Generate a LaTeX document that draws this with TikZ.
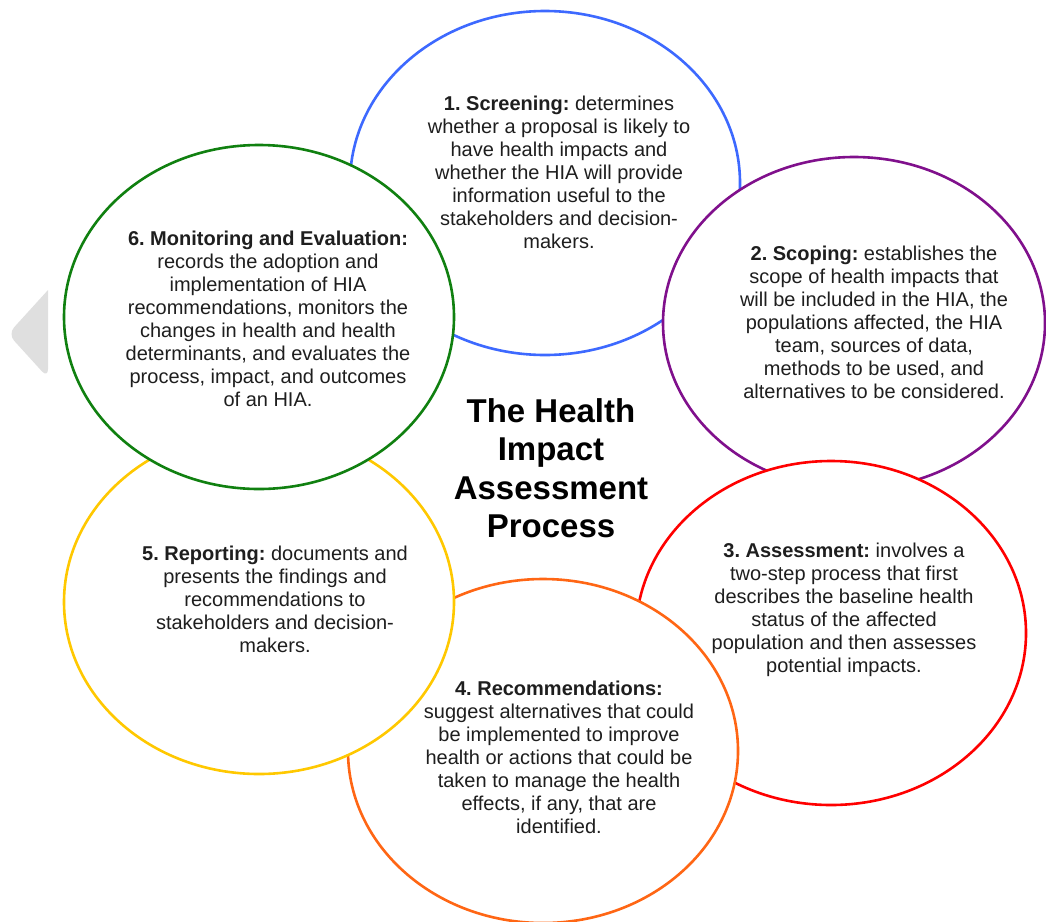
\documentclass[tikz,border=0pt]{standalone}
\usepackage{fontspec}
\setmainfont{Liberation Sans}
\usepackage{tikz}
\usetikzlibrary{shapes.geometric, positioning}
\definecolor{hiaBlue}{RGB}{61,105,255}
\definecolor{hiaPurple}{RGB}{128,16,140}
\definecolor{hiaRed}{RGB}{255,0,0}
\definecolor{hiaOrange}{RGB}{255,102,20}
\definecolor{hiaYellow}{RGB}{255,200,0}
\definecolor{hiaGreen}{RGB}{16,128,16}
\definecolor{hiaText}{RGB}{30,30,30}
\frenchspacing

\begin{document}
\begin{tikzpicture}
                            [x=1pt, y=-1pt,
                             stage/.style={draw, ellipse, fill=white, line width=2.6pt,
                                           minimum width=390pt, minimum height=344pt, inner sep=0pt},
                             stagetext/.style={align=center, text=hiaText, inner sep=0pt,
                                               font=\fontsize{20}{23}\selectfont},
                             title/.style={align=center, inner sep=0pt,
                                           font=\bfseries\fontsize{33}{38.5}\selectfont}]
    \useasboundingbox (0,0) rectangle (1046,921);

    % carousel arrow at the left edge
    \fill[gray!25, rounded corners=9pt] (48,290) -- (8,334) -- (48,378) [sharp corners] -- cycle;

    % the six stages, each drawn over the one before
    \node[stage, draw=hiaBlue] (screening) at (545,183) {};
    \node[stagetext] (screeningtxt) at (559,172) {\textbf{1. Screening:} determines\\
        whether a proposal is likely to\\ have health impacts and\\
        whether the HIA will provide\\ information useful to the\\
        stakeholders and decision-\\ makers.};

    \node[stage, draw=hiaPurple, minimum width=382pt, minimum height=332pt] (scoping) at (854,323) {};
    \node[stagetext] (scopingtxt) at (874,322) {\textbf{2. Scoping:} establishes the\\
        scope of health impacts that\\ will be included in the HIA, the\\
        populations affected, the HIA\\ team, sources of data,\\
        methods to be used, and\\ alternatives to be considered.};

    \node[stage, draw=hiaRed] (assessment) at (831,633) {};
    \node[stagetext] (assessmenttxt) at (844,610) {\textbf{3. Assessment:} involves a\\
        two-step process that first\\ describes the baseline health\\
        status of the affected\\ population and then assesses\\
        potential impacts.};

    \node[stage, draw=hiaOrange] (recommend) at (543,751) {};
    \node[stagetext] (recommendtxt) at (559,757) {\textbf{4. Recommendations:}\\
        suggest alternatives that could\\ be implemented to improve\\
        health or actions that could be\\ taken to manage the health\\
        effects, if any, that are\\ identified.};

    \node[stage, draw=hiaYellow] (reporting) at (259,602) {};
    \node[stagetext] (reportingtxt) at (275,599) {\textbf{5. Reporting:} documents and\\
        presents the findings and\\ recommendations to\\
        stakeholders and decision-\\ makers.};

    \node[stage, draw=hiaGreen] (monitoring) at (259,317) {};
    \node[stagetext] (monitoringtxt) at (268,319) {\textbf{6. Monitoring and Evaluation:}\\
        records the adoption and\\ implementation of HIA\\
        recommendations, monitors the\\ changes in health and health\\
        determinants, and evaluates the\\ process, impact, and outcomes\\
        of an HIA.};

    % centre title
    \node[title] (process) at (551,468) {The Health\\ Impact\\ Assessment\\ Process};
\end{tikzpicture}
\end{document}
